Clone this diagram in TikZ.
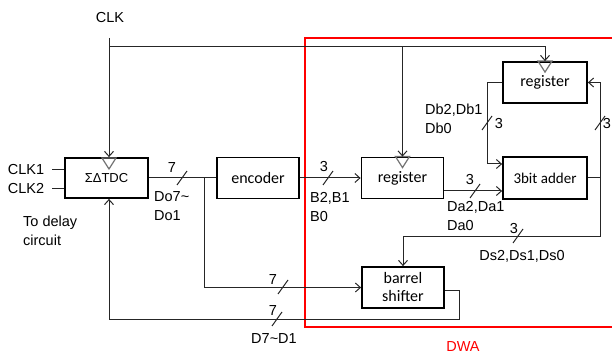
\documentclass[tikz,border=0pt]{standalone}
\usepackage{fontspec}
\setmainfont{Liberation Sans}
\newfontfamily\boxfont{Carlito}
\usetikzlibrary{arrows.meta,calc}
\tikzset{
  blk/.style   = {rectangle, draw=black, line width=1.8pt, minimum width=82pt,
                  minimum height=41pt, inner sep=0pt,
                  font=\boxfont\fontsize{16}{18}\selectfont},
  wire/.style  = {line width=1pt, draw=black!85},
  edge/.style  = {wire, -{Straight Barb[length=5pt,width=9pt]}},
  lab/.style   = {font=\fontsize{14.5}{19}\selectfont, inner sep=0pt},
  clktri/.pic  = {\draw[draw=black!55, line width=1.2pt] (-7,0) -- (7,0) -- (0,11) -- cycle;},
  bus/.pic     = {\draw[wire] (-5,7) -- (5,-7);},
}

\begin{document}
\begin{tikzpicture}[x=1pt, y=-1pt]
  \useasboundingbox (0,0) rectangle (612,355);
  \clip (0,0) rectangle (612,355);

  \draw[red, line width=1.6pt] (305,38) rectangle (640,327);
  \node[lab, text=red] (dwa) at (463,347) {DWA};

  \node[blk, minimum width=83pt, minimum height=40pt,
        font=\fontsize{13}{15}\selectfont] (tdc) at (106.5,178) {ΣΔTDC};
  \node[blk]                      (enc)  at (258,178)   {encoder};
  \node[blk]                      (regm) at (402.5,178) {register};
  \node[blk, minimum width=84pt]  (regt) at (545,82.5)  {register};
  \node[blk, minimum width=84pt, minimum height=42pt,
        font=\boxfont\fontsize{15}{18}\selectfont] (add) at (545,178) {3bit adder};
  \node[blk, align=center]        (bsh)  at (403,287.5) {barrel\\shifter};

  \pic at (109,158)       {clktri};
  \pic at (regm.north)    {clktri};
  \pic at (regt.north)    {clktri};

  \node[lab] (clk)  at (110,18)  {CLK};
  \node[lab] (clk1) at (26,170)  {CLK1};
  \node[lab] (clk2) at (26,189)  {CLK2};
  \node[lab, align=left, anchor=west] (dly) at (23,231) {To delay\\circuit};

  \coordinate (clkt) at (109,38);
  \coordinate (clkh) at (109,47);
  \coordinate (jd)   at (204,178);
  \coordinate (rr)   at (600,178);
  \coordinate (ds)   at (600,236);
  \coordinate (fb)   at (459,319);

  \draw[edge] (clkt) -- (clkt |- tdc.north);
  \draw[edge] (clkh) -| (regt.north);
  \draw[edge] (clkh -| regm.north) -- (regm.north);

  \draw[wire] ([xshift=8pt]clk1.east) -- (clk1.east -| tdc.west);
  \draw[wire] ([xshift=8pt]clk2.east) -- (clk2.east -| tdc.west);

  \draw[wire] (tdc.east) -- (enc.west);
  \draw[edge] (jd) |- (bsh.west);
  \draw[edge] (enc.east) -- (regm.west);
  \draw[edge] ([yshift=-13pt]regm.east) -- ([yshift=-13pt]regm.east -| add.west);
  \draw[edge] (regt.west) -- ++(-15,0) |- ([yshift=14pt]add.west);
  \draw[wire] (add.east) -- (rr);
  \draw[edge] (rr) |- (regt.east);
  \draw[edge] (rr) -- (ds) -| (bsh.north);
  \draw[edge] ([yshift=-2.5pt]bsh.east) -| (fb) -| (clkt |- tdc.south);

  \pic at (182,178) {bus};
  \pic at (283,287) {bus};
  \pic at (277,319) {bus};
  \pic at (328,178) {bus};
  \pic at (475,191) {bus};
  \pic at (487,123) {bus};
  \pic at (600,123) {bus};
  \pic at (518,236) {bus};

  \node[lab] (n7a) at (172,168) {7};
  \node[lab] (n7b) at (273,280) {7};
  \node[lab] (n7c) at (273,311) {7};
  \node[lab] (n3a) at (324,167) {3};
  \node[lab] (n3b) at (470,180) {3};
  \node[lab] (n3c) at (499,124) {3};
  \node[lab] (n3d) at (607,124) {3};
  \node[lab] (n3e) at (514,229) {3};

  \node[lab, align=left, anchor=west] (dol) at (154,206)   {Do7\textasciitilde\\Do1};
  \node[lab, align=left, anchor=west] (bl)  at (310,207)   {B2,B1\\B0};
  \node[lab, align=left, anchor=west] (dbl) at (425,118.5) {Db2,Db1\\Db0};
  \node[lab, align=left, anchor=west] (dal) at (447,216)   {Da2,Da1\\Da0};
  \node[lab] (dsl) at (522,256) {Ds2,Ds1,Ds0};
  \node[lab] (dl)  at (274,339) {D7\textasciitilde D1};

\end{tikzpicture}
\end{document}
